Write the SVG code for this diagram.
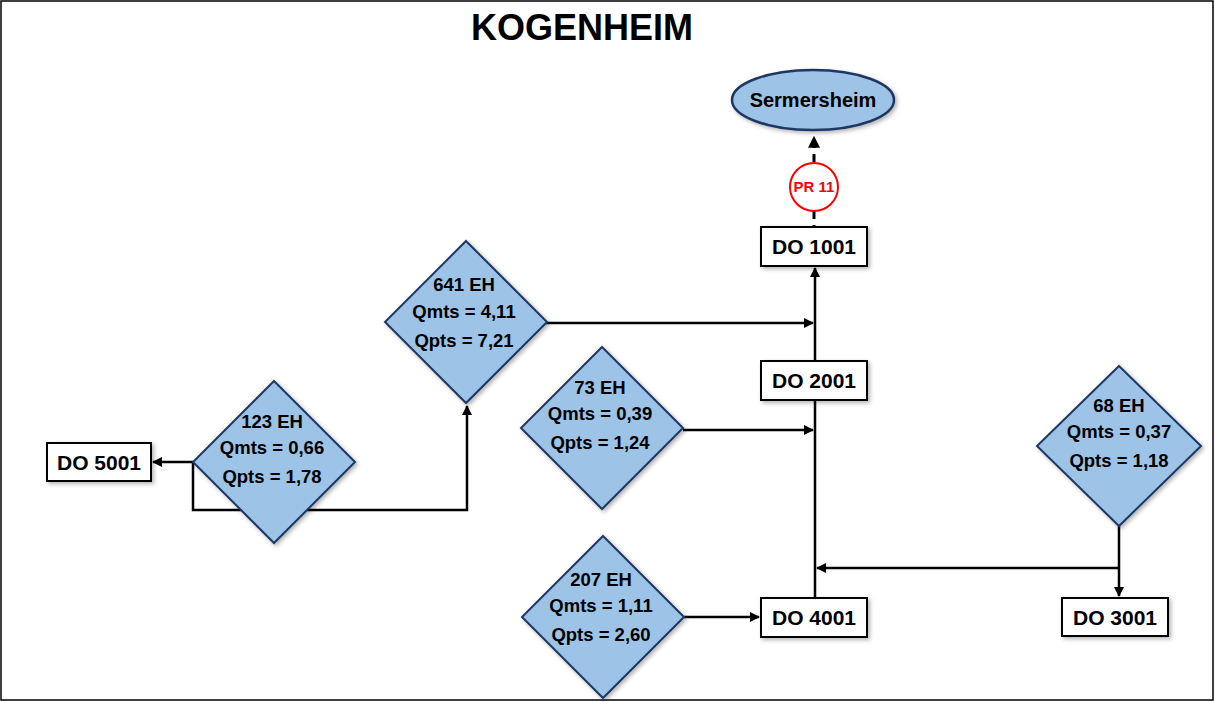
<svg xmlns="http://www.w3.org/2000/svg" width="1215" height="702" viewBox="0 0 1215 702">
<defs>
<style>
.frame{fill:#fff;stroke:#000;stroke-width:1.5}
.title{font-family:"Liberation Sans",Arial,sans-serif;font-weight:bold;font-size:36px;fill:#000}
.dia{fill:#9DC3E6;stroke:#1F3864;stroke-width:2}
.dt{font-family:"Liberation Sans",Arial,sans-serif;font-weight:bold;font-size:18.5px;fill:#000;text-anchor:middle}
.box{fill:#fff;stroke:#000;stroke-width:2}
.bt{font-family:"Liberation Sans",Arial,sans-serif;font-weight:bold;font-size:21px;fill:#000;text-anchor:middle}
.ell{fill:#9DC3E6;stroke:#1F3864;stroke-width:2.5}
.et{font-family:"Liberation Sans",Arial,sans-serif;font-weight:bold;font-size:20px;fill:#000;text-anchor:middle}
.pr{fill:#fff;stroke:#FF0000;stroke-width:2}
.prt{font-family:"Liberation Sans",Arial,sans-serif;font-weight:bold;font-size:15px;fill:#FF0000;text-anchor:middle}
.ln{fill:none;stroke:#000;stroke-width:2.5}
.dash{fill:none;stroke:#000;stroke-width:3;stroke-dasharray:8 6}
</style>
<marker id="ah" viewBox="0 0 10 10" refX="9" refY="5" markerWidth="4" markerHeight="4" orient="auto" markerUnits="strokeWidth">
<path d="M0,0 L10,5 L0,10 z" fill="#000"/>
</marker>
<filter id="sh" x="-20%" y="-20%" width="140%" height="140%">
<feDropShadow dx="2" dy="2" stdDeviation="2" flood-color="#000" flood-opacity="0.3"/>
</filter>
</defs>
<rect class="frame" x="1" y="1" width="1212" height="699"/>
<text class="title" x="582" y="40" text-anchor="middle">KOGENHEIM</text>

<g id="connectors">
<path class="dash" d="M814,162 L814,137" marker-end="url(#ah)"/>
<path class="dash" d="M814,211 L814,227"/>
<path class="ln" d="M815,598 L815,268" marker-end="url(#ah)"/>
<path class="ln" d="M546,323 L813,323" marker-end="url(#ah)"/>
<path class="ln" d="M683,430 L813,430" marker-end="url(#ah)"/>
<path class="ln" d="M684,617 L759,617" marker-end="url(#ah)"/>
<path class="ln" d="M1118,568 L817,568" marker-end="url(#ah)"/>
<path class="ln" d="M1119,526 L1119,596" marker-end="url(#ah)"/>
<path class="ln" d="M193,462 L153,462" marker-end="url(#ah)"/>
<path class="ln" d="M193,462 L193,510 L467,510 L467,406" marker-end="url(#ah)"/>
</g>

<g id="sermersheim">
<ellipse class="ell" cx="813" cy="100" rx="81" ry="30" filter="url(#sh)"/>
<text class="et" x="813" y="107">Sermersheim</text>
</g>

<g id="pr11">
<circle class="pr" cx="814" cy="187" r="24"/>
<text class="prt" x="814" y="192">PR 11</text>
</g>

<g id="do1001">
<rect class="box" x="761" y="227" width="106" height="39" filter="url(#sh)"/>
<text class="bt" x="814" y="254">DO 1001</text>
</g>

<g id="do2001">
<rect class="box" x="761" y="361" width="106" height="39" filter="url(#sh)"/>
<text class="bt" x="814" y="388">DO 2001</text>
</g>

<g id="do4001">
<rect class="box" x="761" y="598" width="106" height="39" filter="url(#sh)"/>
<text class="bt" x="814" y="625">DO 4001</text>
</g>

<g id="do3001">
<rect class="box" x="1062" y="598" width="106" height="38" filter="url(#sh)"/>
<text class="bt" x="1115" y="625">DO 3001</text>
</g>

<g id="do5001">
<rect class="box" x="47" y="443" width="104" height="38" filter="url(#sh)"/>
<text class="bt" x="99" y="470">DO 5001</text>
</g>

<g id="eh641">
<polygon class="dia" points="466,241 547,322 466,403 385,322" filter="url(#sh)"/>
<text class="dt" x="464" y="291">641 EH</text>
<text class="dt" x="464" y="318">Qmts = 4,11</text>
<text class="dt" x="464" y="347">Qpts = 7,21</text>
</g>

<g id="eh123">
<polygon class="dia" points="274,381 355,462 274,543 193,462" filter="url(#sh)"/>
<text class="dt" x="272" y="428">123 EH</text>
<text class="dt" x="272" y="454">Qmts = 0,66</text>
<text class="dt" x="272" y="483">Qpts = 1,78</text>
</g>

<g id="eh73">
<polygon class="dia" points="602,347 683,428 602,509 521,428" filter="url(#sh)"/>
<text class="dt" x="600" y="394">73 EH</text>
<text class="dt" x="600" y="420">Qmts = 0,39</text>
<text class="dt" x="600" y="449">Qpts = 1,24</text>
</g>

<g id="eh207">
<polygon class="dia" points="603,536 684,617 603,698 522,617" filter="url(#sh)"/>
<text class="dt" x="601" y="586">207 EH</text>
<text class="dt" x="601" y="612">Qmts = 1,11</text>
<text class="dt" x="601" y="641">Qpts = 2,60</text>
</g>

<g id="eh68">
<polygon class="dia" points="1119,366 1201,446 1119,526 1037,446" filter="url(#sh)"/>
<text class="dt" x="1119" y="412">68 EH</text>
<text class="dt" x="1119" y="438">Qmts = 0,37</text>
<text class="dt" x="1119" y="467">Qpts = 1,18</text>
</g>
</svg>
